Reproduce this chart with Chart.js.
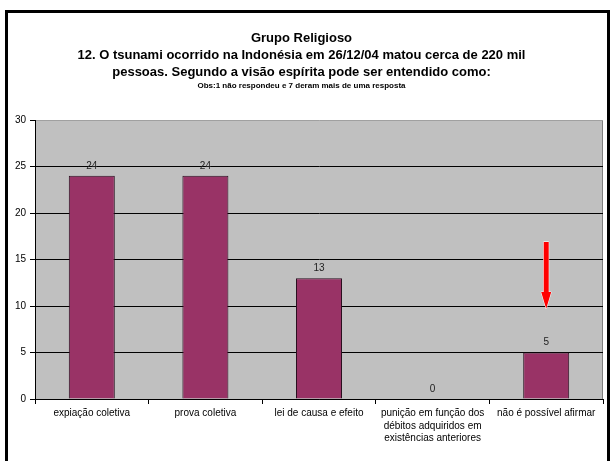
<!DOCTYPE html>
<html>
<head>
<meta charset="utf-8">
<script src="https://cdn.jsdelivr.net/npm/chart.js@4/dist/chart.umd.min.js"></script>
<style>
	html, body { margin: 0; padding: 0; background: #fff; }
	#wrap { position: relative; width: 612px; height: 461px; }
</style>
</head>
<body>
<div id="wrap"><canvas id="chart-tsunami" width="612" height="461"></canvas></div>
<script>
// Chart data
const CATEGORIES = [
	"expiação coletiva",
	"prova coletiva",
	"lei de causa e efeito",
	["punição em função dos", "débitos adquiridos em", "existências anteriores"],
	"não é possível afirmar",
];
const ANSWERS = [24, 24, 13, 0, 5];
const Y_TICKS = [0, 5, 10, 15, 20, 25, 30];
// red arrow pointing at the last bar (category index, from value, head start, tip value)
const ARROW = [4, 16.9, 11.5, 9.7];

const FONT = "'Liberation Sans', Arial, sans-serif";

// Plot background + frame
const backdrop = {
	id: "backdrop",
	beforeDraw(chart) {
		const { ctx, chartArea: a } = chart;
		ctx.save();
		ctx.fillStyle = "#fff";
		ctx.fillRect(0, 0, chart.width, chart.height);
		ctx.fillStyle = "#c0c0c0";
		ctx.fillRect(a.left, a.top, a.right - a.left, a.bottom - a.top);
		ctx.strokeStyle = "#808080";
		ctx.lineWidth = 1;
		ctx.beginPath();
		ctx.moveTo(a.right - 0.5, a.top);
		ctx.lineTo(a.right - 0.5, a.bottom);
		ctx.stroke();
		ctx.restore();
	},
	afterDraw(chart) {
		const { ctx } = chart;
		ctx.save();
		ctx.strokeStyle = "#000";
		ctx.lineWidth = 3;
		ctx.strokeRect(6.5, 11.5, 602, 470);
		ctx.restore();
	},
};

// Value labels above bars
const valueLabels = {
	id: "valueLabels",
	afterDatasetsDraw(chart) {
		const { ctx } = chart;
		const meta = chart.getDatasetMeta(0);
		ctx.save();
		ctx.font = "10px " + FONT;
		ctx.fillStyle = "#222";
		ctx.textAlign = "center";
		ctx.textBaseline = "bottom";
		meta.data.forEach((bar, i) => {
			ctx.fillText(ANSWERS[i], bar.x, bar.y - 5);
		});
		ctx.restore();
	},
};

// Red arrow
const arrow = {
	id: "arrow",
	afterDraw(chart) {
		const { ctx, scales } = chart;
		const x = scales.x.getPixelForValue(ARROW[0]);
		const y0 = scales.y.getPixelForValue(ARROW[1]);
		const y1 = scales.y.getPixelForValue(ARROW[2]);
		const y2 = scales.y.getPixelForValue(ARROW[3]);
		ctx.save();
		ctx.beginPath();
		ctx.moveTo(x - 2.5, y0);
		ctx.lineTo(x + 2.5, y0);
		ctx.lineTo(x + 2.5, y1);
		ctx.lineTo(x + 5, y1);
		ctx.lineTo(x, y2);
		ctx.lineTo(x - 5, y1);
		ctx.lineTo(x - 2.5, y1);
		ctx.closePath();
		ctx.fillStyle = "#ff0000";
		ctx.strokeStyle = "#fff";
		ctx.lineWidth = 1;
		ctx.stroke();
		ctx.fill();
		ctx.restore();
	},
};

const CHART_CONFIG = {
	type: "bar",
	data: {
		labels: CATEGORIES,
		datasets: [
			{
				data: ANSWERS,
				backgroundColor: "#993366",
				borderColor: "#2a1020",
				borderWidth: 1,
				categoryPercentage: 1,
				barPercentage: 0.405,
			},
		],
	},
	options: {
		responsive: false,
		animation: false,
		layout: {
			padding: { left: 0, right: 9, top: 0, bottom: 0 },
		},
		plugins: {
			legend: { display: false },
			tooltip: { enabled: false },
			title: {
				display: true,
				text: [
					"Grupo Religioso",
					"12. O tsunami ocorrido na Indonésia em 26/12/04 matou cerca de 220 mil",
					"pessoas. Segundo a visão espírita pode ser entendido como:",
				],
				color: "#000",
				font: { family: FONT, size: 13, weight: "bold", lineHeight: 1.32 },
				padding: { top: 30, bottom: 0 },
			},
			subtitle: {
				display: true,
				text: "Obs:1 não respondeu e 7 deram mais de uma resposta",
				color: "#000",
				font: { family: FONT, size: 8, weight: "bold", lineHeight: 1.2 },
				padding: { top: 0, bottom: 29 },
			},
		},
		scales: {
			x: {
				border: { display: true, color: "#000", width: 1 },
				grid: {
					display: true,
					drawOnChartArea: false,
					drawTicks: true,
					tickLength: 5,
					color: "#000",
					offset: true,
				},
				ticks: {
					color: "#000",
					font: { family: FONT, size: 10, lineHeight: 1.25 },
					maxRotation: 0,
					autoSkip: false,
					padding: 3,
				},
				afterFit(scale) {
					scale.height = 62;
				},
			},
			y: {
				min: 0,
				max: 30,
				border: { display: true, color: "#000", width: 1 },
				grid: {
					color: (c) => (c.tick && c.tick.value === 30 ? "#a0a0a0" : "#000"),
					tickLength: 5,
					tickColor: "#000",
				},
				afterBuildTicks(scale) {
					scale.ticks = Y_TICKS.map((v) => ({ value: v }));
				},
				ticks: {
					color: "#000",
					font: { family: FONT, size: 10 },
					padding: 4,
				},
				afterFit(scale) {
					scale.width = 35;
				},
			},
		},
	},
	plugins: [backdrop, valueLabels, arrow],
};

new Chart(document.getElementById("chart-tsunami"), CHART_CONFIG);
</script>
</body>
</html>
